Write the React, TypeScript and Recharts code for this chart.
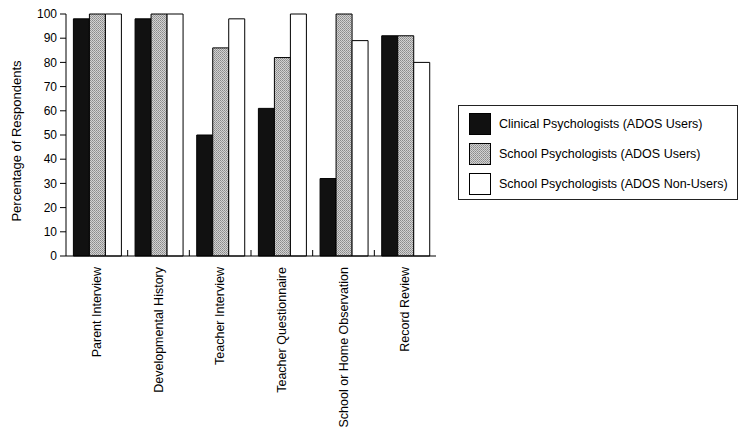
import React from 'react';
import { BarChart, Bar, XAxis, YAxis, Legend } from 'recharts';

const categories = [
  'Parent Interview',
  'Developmental History',
  'Teacher Interview',
  'Teacher Questionnaire',
  'School or Home Observation',
  'Record Review',
];
const clinicalUsers = [98, 98, 50, 61, 32, 91];
const schoolUsers = [100, 100, 86, 82, 100, 91];
const schoolNonUsers = [100, 100, 98, 100, 89, 80];
const yTicks = [0, 10, 20, 30, 40, 50, 60, 70, 80, 90, 100];
const seriesNames = [
  'Clinical Psychologists (ADOS Users)',
  'School Psychologists (ADOS Users)',
  'School Psychologists (ADOS Non-Users)',
];

const data = categories.map((c, i) => ({
  name: c,
  clinical: clinicalUsers[i],
  school: schoolUsers[i],
  nonUsers: schoolNonUsers[i],
}));

const FONT = '"Liberation Sans", Arial, Helvetica, sans-serif';

const Stipple = ({ id }: { id: string }) => (
  <pattern id={id} width="2" height="2" patternUnits="userSpaceOnUse">
    <rect x="0" y="0" width="2" height="2" fill="#d2d2d2" />
    <rect x="0" y="0" width="1" height="1" fill="#8a8a8a" />
    <rect x="1" y="1" width="1" height="1" fill="#9c9c9c" />
  </pattern>
);

const XTick = (props: any) => {
  const { x, y, payload, index, width } = props;
  const band = width / categories.length;
  const ty = y + 11;
  return (
    <g>
      {index < categories.length - 1 && (
        <line x1={x + band / 2} x2={x + band / 2} y1={y} y2={y - 6} stroke="#000" strokeWidth={1} />
      )}
      <text
        x={x}
        y={ty}
        transform={`rotate(-90, ${x}, ${ty})`}
        textAnchor="end"
        dominantBaseline="central"
        fontSize={12.5}
        fontFamily={FONT}
        fill="#000"
      >
        {payload.value}
      </text>
    </g>
  );
};

const LegendBox = () => {
  const fills = ['#111', 'url(#stippleLegend)', '#fff'];
  return (
    <div
      style={{
        border: '1px solid #222',
        width: 278,
        height: 93,
        boxSizing: 'content-box',
        fontFamily: FONT,
        fontSize: 12.5,
        color: '#000',
        position: 'relative',
      }}
    >
      <svg width="0" height="0" style={{ position: 'absolute' }}>
        <defs>
          <Stipple id="stippleLegend" />
        </defs>
      </svg>
      {seriesNames.map((n, i) => (
        <div
          key={n}
          style={{
            position: 'absolute',
            left: 10,
            top: 7 + i * 30,
            height: 21,
            display: 'flex',
            alignItems: 'center',
            whiteSpace: 'nowrap',
          }}
        >
          <svg width={22} height={22} style={{ marginRight: 8 }}>
            <rect x={0.5} y={0.5} width={21} height={21} fill={fills[i]} stroke="#000" />
          </svg>
          <span>{n}</span>
        </div>
      ))}
    </div>
  );
};

export default function App() {
  return (
    <div style={{ width: 739, height: 426, background: '#fff' }}>
      <BarChart
        width={730}
        height={420}
        data={data}
        margin={{ top: 6, right: 22, bottom: 0, left: 0 }}
        barGap={0}
        barCategoryGap="12%"
      >
        <defs>
          <Stipple id="stippleBar" />
        </defs>
        <XAxis
          dataKey="name"
          interval={0}
          height={172}
          tickLine={false}
          tickSize={0}
          tickMargin={0}
          axisLine={{ stroke: '#000' }}
          tick={<XTick />}
        />
        <YAxis
          width={58}
          domain={[0, 100]}
          ticks={yTicks}
          interval={0}
          tickSize={6}
          tickMargin={3}
          axisLine={{ stroke: '#000' }}
          tickLine={{ stroke: '#000' }}
          tick={{ fontSize: 12, fontFamily: FONT, fill: '#000' }}
          label={{
            content: (p: any) => {
              const vb = p.viewBox;
              const cx = 8;
              const cy = vb.y + vb.height / 2 + 6;
              return (
                <text
                  x={cx}
                  y={cy}
                  transform={`rotate(-90, ${cx}, ${cy})`}
                  textAnchor="middle"
                  dominantBaseline="central"
                  fontSize={13}
                  fontFamily={FONT}
                  fill="#000"
                >
                  Percentage of Respondents
                </text>
              );
            },
          }}
        />
        <Legend
          content={<LegendBox />}
          layout="vertical"
          align="right"
          verticalAlign="top"
          wrapperStyle={{ position: 'absolute', left: 450, top: 97, width: 280, right: 'auto', bottom: 'auto' }}
        />
        <Bar dataKey="clinical" name={seriesNames[0]} fill="#111" stroke="#000" strokeWidth={1} isAnimationActive={false} />
        <Bar dataKey="school" name={seriesNames[1]} fill="url(#stippleBar)" stroke="#000" strokeWidth={1} isAnimationActive={false} />
        <Bar dataKey="nonUsers" name={seriesNames[2]} fill="#fff" stroke="#000" strokeWidth={1} isAnimationActive={false} />
      </BarChart>
    </div>
  );
}
